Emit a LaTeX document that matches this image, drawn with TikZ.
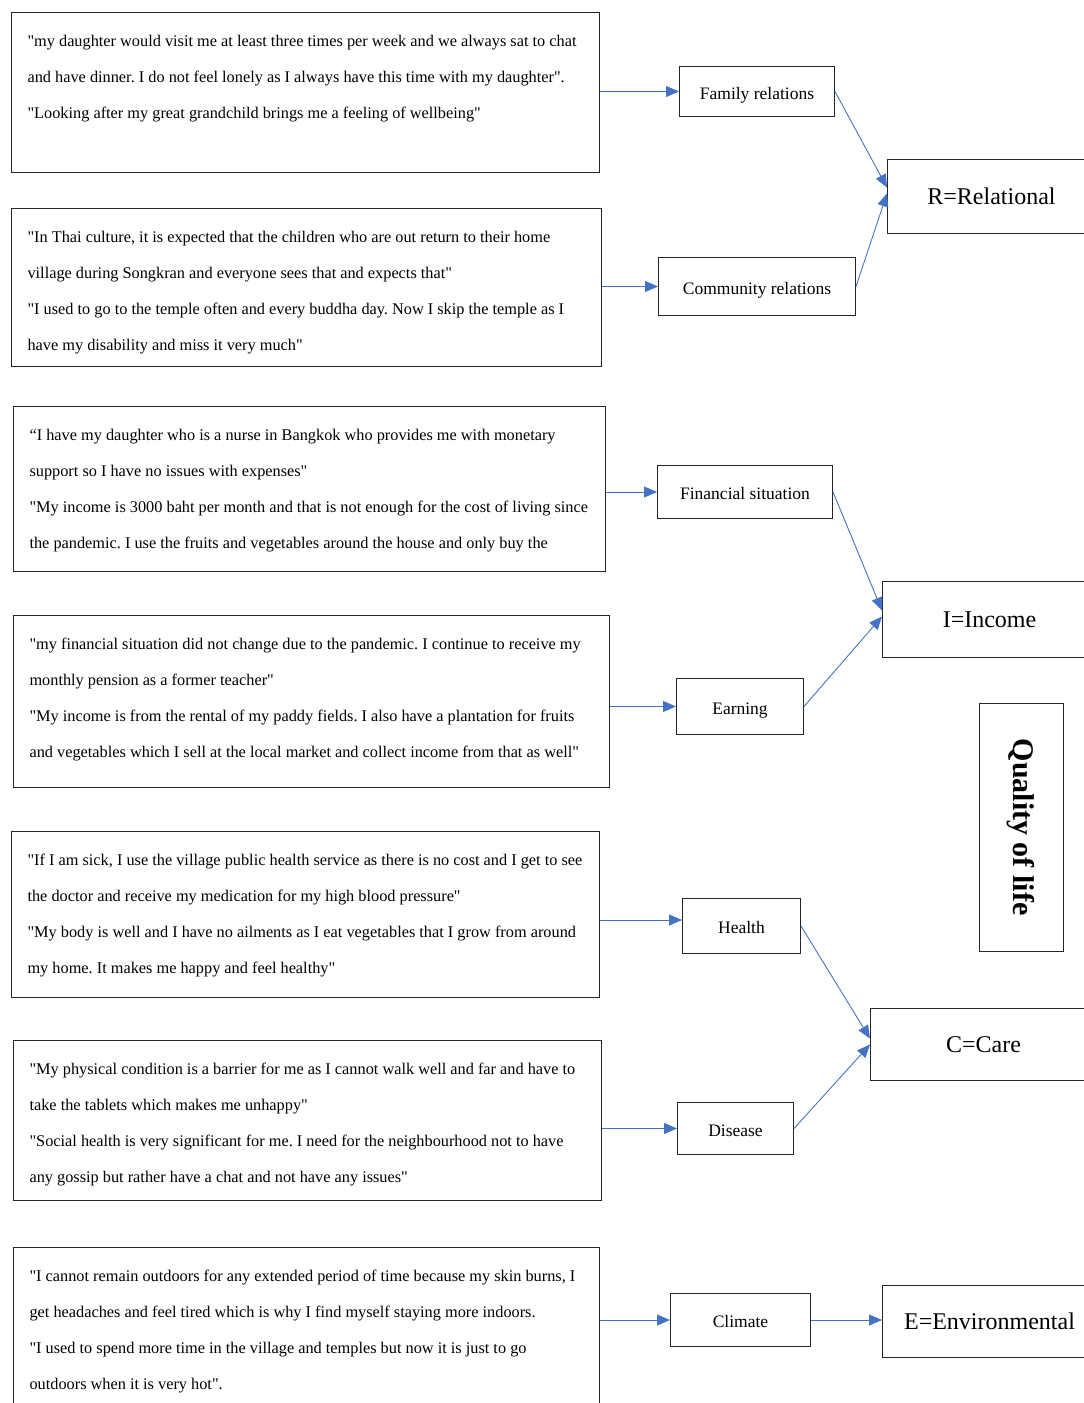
\documentclass[tikz,border=0pt]{standalone}
\usepackage{fontspec}
\newfontfamily\timesfont{Liberation Serif}
\usetikzlibrary{arrows.meta}
\definecolor{linkblue}{RGB}{68,114,196}
\newcommand{\qtext}[3]{\parbox[c][#2][t]{#1}{\frenchspacing\rule{0pt}{34pt}#3}}

\begin{document}
\begin{tikzpicture}[x=1pt, y=-1pt,
    quotebox/.style={draw=black!85, line width=1.1pt, anchor=north west, inner xsep=16pt, inner ysep=0pt, font=\timesfont\fontsize{16.3}{36}\selectfont},
    factorbox/.style={draw=black!85, line width=1pt, anchor=north west, inner sep=0pt, text height=15pt, text depth=0pt, font=\timesfont\fontsize{17.5}{20}\selectfont},
    dimbox/.style={draw=black!85, line width=1pt, anchor=north west, inner sep=0pt, font=\timesfont\fontsize{24}{28}\selectfont},
    link/.style={draw=linkblue, line width=0.9pt, -{Triangle[length=13pt, width=11pt]}}]
  \useasboundingbox (0,0) rectangle (1084,1403);

  % quotes
  \node[quotebox] (q1) at (11,12) {\qtext{556pt}{160pt}{"my daughter would visit me at least three times per week and we always sat to chat\\
    and have dinner. I do not feel lonely as I always have this time with my daughter".\\
    "Looking after my great grandchild brings me a feeling of wellbeing"}};
  \node[quotebox] (q2) at (11,208) {\qtext{558pt}{158pt}{"In Thai culture, it is expected that the children who are out return to their home\\
    village during Songkran and everyone sees that and expects that"\\
    "I used to go to the temple often and every buddha day. Now I skip the temple as I\\
    have my disability and miss it very much"}};
  \node[quotebox] (q3) at (13,406) {\qtext{560pt}{165pt}{“I have my daughter who is a nurse in Bangkok who provides me with monetary\\
    support so I have no issues with expenses"\\
    "My income is 3000 baht per month and that is not enough for the cost of living since\\
    the pandemic. I use the fruits and vegetables around the house and only buy the}};
  \node[quotebox] (q4) at (13,615) {\qtext{564pt}{172pt}{"my financial situation did not change due to the pandemic. I continue to receive my\\
    monthly pension as a former teacher"\\
    "My income is from the rental of my paddy fields. I also have a plantation for fruits\\
    and vegetables which I sell at the local market and collect income from that as well"}};
  \node[quotebox] (q5) at (11,831) {\qtext{556pt}{166pt}{"If I am sick, I use the village public health service as there is no cost and I get to see\\
    the doctor and receive my medication for my high blood pressure"\\
    "My body is well and I have no ailments as I eat vegetables that I grow from around\\
    my home. It makes me happy and feel healthy"}};
  \node[quotebox] (q6) at (13,1040) {\qtext{556pt}{160pt}{"My physical condition is a barrier for me as I cannot walk well and far and have to\\
    take the tablets which makes me unhappy"\\
    "Social health is very significant for me. I need for the neighbourhood not to have\\
    any gossip but rather have a chat and not have any issues"}};
  \node[quotebox] (q7) at (13,1247) {\qtext{554pt}{180pt}{"I cannot remain outdoors for any extended period of time because my skin burns, I\\
    get headaches and feel tired which is why I find myself staying more indoors.\\
    "I used to spend more time in the village and temples but now it is just to go\\
    outdoors when it is very hot".}};

  % factors
  \node[factorbox, minimum width=155pt, minimum height=50pt] (family) at (679,66) {Family relations};
  \node[factorbox, minimum width=197pt, minimum height=58pt] (community) at (658,257) {Community relations};
  \node[factorbox, minimum width=175pt, minimum height=53pt] (finance) at (657,465) {Financial situation};
  \node[factorbox, minimum width=127pt, minimum height=56pt] (earning) at (676,678) {Earning};
  \node[factorbox, minimum width=118pt, minimum height=55pt] (health) at (682,898) {Health};
  \node[factorbox, minimum width=116pt, minimum height=52pt] (disease) at (677,1102) {Disease};
  \node[factorbox, minimum width=140pt, minimum height=53pt] (climate) at (670,1293) {Climate};

  % domains
  \node[dimbox, minimum width=208pt, minimum height=74pt] (rel) at (887,159) {R=Relational};
  \node[dimbox, minimum width=214pt, minimum height=76pt] (inc) at (882,581) {I=Income};
  \node[dimbox, minimum width=226pt, minimum height=72pt] (care) at (870,1008) {C=Care};
  \node[dimbox, minimum width=214pt, minimum height=72pt] (env) at (882,1285) {E=Environmental};
  \node[dimbox, anchor=center, rotate=-90, minimum width=248pt, minimum height=84pt, font=\timesfont\bfseries\fontsize{30}{34}\selectfont] (qol) at (1021,827) {Quality of life};

  % quote -> factor
  \draw[link] (q1.east |- family.west) -- (family.west);
  \draw[link] (q2.east |- community.west) -- (community.west);
  \draw[link] (q3.east |- finance.west) -- (finance.west);
  \draw[link] (q4.east |- earning.west) -- (earning.west);
  \draw[link] ([yshift=6pt]health.west -| q5.east) -- ([yshift=6pt]health.west);
  \draw[link] (q6.east |- disease.west) -- (disease.west);
  \draw[link] (q7.east |- climate.west) -- (climate.west);

  % factor -> domain
  \draw[link] (family.east) -- ([yshift=9pt]rel.west);
  \draw[link] (community.east) -- ([yshift=3pt]rel.west);
  \draw[link] (finance.east) -- ([yshift=9pt]inc.west);
  \draw[link] (earning.east) -- ([yshift=3pt]inc.west);
  \draw[link] (health.east) -- ([yshift=6pt]care.west);
  \draw[link] (disease.east) -- (care.west);
  \draw[link] (climate.east) -- (climate.east -| env.west);
\end{tikzpicture}
\end{document}
